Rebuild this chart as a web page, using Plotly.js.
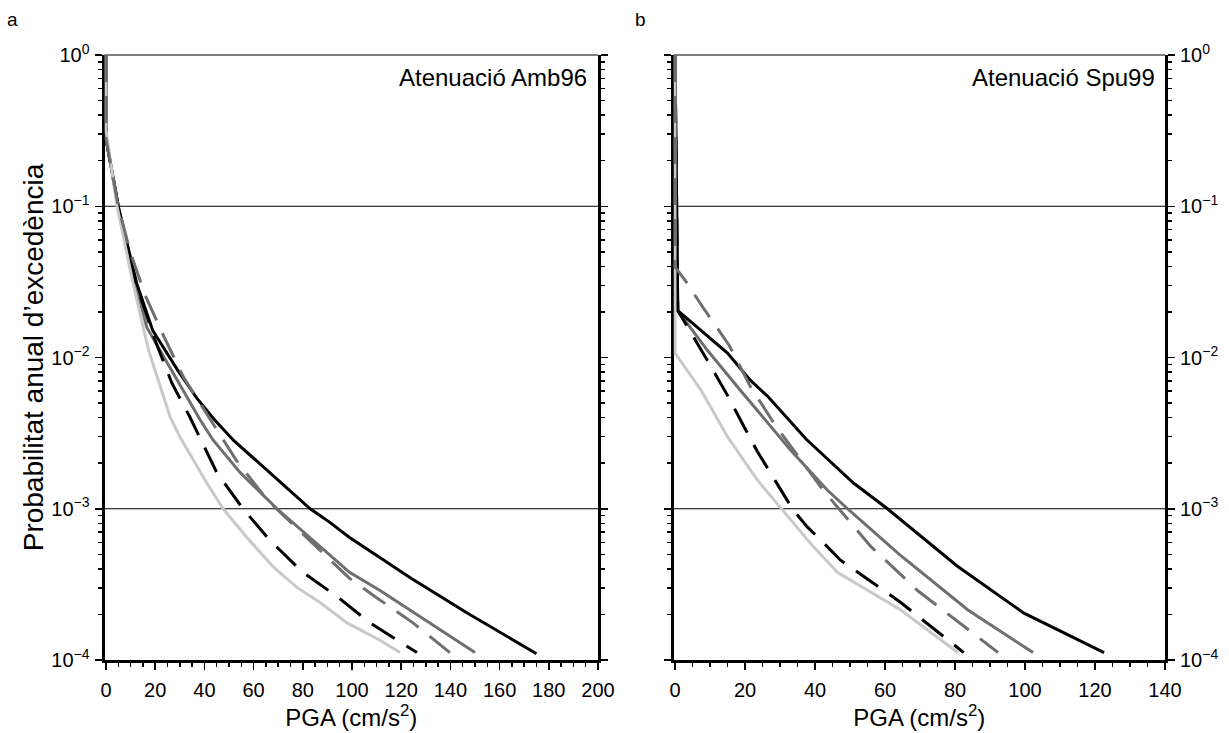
<!DOCTYPE html>
<html>
<head>
<meta charset="utf-8">
<script src="https://cdn.plot.ly/plotly-3.0.1.min.js"></script>
<style>
  html, body { margin: 0; padding: 0; background: #ffffff; }
  #chart { width: 1229px; height: 733px; }
</style>
</head>
<body>
<div id="chart"></div>
<script>
// Annual exceedance probability vs PGA (cm/s²), two attenuation models.

// ---- Panel a: Atenuació Amb96 ----
const amb96_black_pga  = [0, 0, 5, 12.5, 19, 29, 37, 44, 52, 71, 83, 91, 99, 111, 124, 147, 175];
const amb96_black_p    = [1, 0.28, 0.1, 0.0309, 0.0151, 0.00832, 0.00537, 0.00389, 0.00282, 0.00148, 0.001, 0.000813, 0.000646, 0.000479, 0.000347, 0.000204, 0.00011];

const amb96_gray_pga   = [0, 0, 5, 11, 16.6, 27.3, 38.2, 43.5, 54.5, 69.5, 85.6, 99, 111.4, 123.6, 150];
const amb96_gray_p     = [1, 0.28, 0.1, 0.0355, 0.0158, 0.00794, 0.00389, 0.00285, 0.00174, 0.001, 0.000589, 0.00038, 0.000288, 0.000214, 0.000112];

const amb96_light_pga  = [0, 0, 4.5, 11, 17.3, 26, 30, 41, 47.6, 57.3, 68, 77.6, 87, 98, 111.4, 119.5];
const amb96_light_p    = [1, 0.316, 0.1, 0.0309, 0.0112, 0.00407, 0.00299, 0.00148, 0.001, 0.000646, 0.000412, 0.000302, 0.00024, 0.000176, 0.000135, 0.000112];

const amb96_blackDash_pga = [0, 0, 5, 12, 19.9, 26.8, 34, 45, 55.7, 66.7, 80, 93.9, 107.3, 126.4];
const amb96_blackDash_p   = [1, 0.28, 0.1, 0.0316, 0.0131, 0.00676, 0.00407, 0.00174, 0.001, 0.000617, 0.00038, 0.000263, 0.000176, 0.000112];

const amb96_grayDash_pga  = [0, 0, 5, 9.8, 15.9, 23.6, 31.7, 39.4, 53, 65.4, 90, 99, 109.3, 124.8, 139.8];
const amb96_grayDash_p    = [1, 0.28, 0.1, 0.0501, 0.0259, 0.0137, 0.00731, 0.00468, 0.00209, 0.00115, 0.000479, 0.000347, 0.000263, 0.000176, 0.000112];

// ---- Panel b: Atenuació Spu99 ----
const spu99_black_pga  = [0, 0.8, 15, 21.5, 26.6, 37.5, 51, 60.7, 80.7, 99.7, 122.6];
const spu99_black_p    = [1, 0.0204, 0.0107, 0.00708, 0.0055, 0.00288, 0.00148, 0.001, 0.000417, 0.000204, 0.000112];

const spu99_gray_pga   = [0, 0.8, 9.2, 18.6, 33, 43.5, 49.3, 64, 83.7, 102.3];
const spu99_gray_p     = [1, 0.0204, 0.0112, 0.0061, 0.00245, 0.00133, 0.001, 0.000501, 0.000214, 0.000112];

const spu99_light_pga  = [0, 0, 7.4, 15, 23.5, 30.9, 39.5, 46.4, 64.5, 80.8];
const spu99_light_p    = [1, 0.0107, 0.0061, 0.00299, 0.00155, 0.000977, 0.000562, 0.00038, 0.000214, 0.000112];

const spu99_blackDash_pga = [0, 0.8, 10.3, 15, 20, 23.5, 33.8, 37.8, 43.5, 47.3, 64.5, 82.5];
const spu99_blackDash_p   = [1, 0.0204, 0.0087, 0.00562, 0.00339, 0.0024, 0.000977, 0.000759, 0.000562, 0.000457, 0.00024, 0.000112];

const spu99_grayDash_pga  = [0, 0, 3.2, 8, 15.5, 21.5, 28.7, 42.4, 56, 69.3, 92.3];
const spu99_grayDash_p    = [1, 0.0398, 0.0316, 0.0214, 0.012, 0.00646, 0.00355, 0.00132, 0.000562, 0.000288, 0.000112];

// Axis ticks and labels
const yTickVals  = [1, 0.1, 0.01, 0.001, 0.0001];
const yTickText  = ['10<sup>0</sup>', '10<sup>−1</sup>', '10<sup>−2</sup>', '10<sup>−3</sup>', '10<sup>−4</sup>'];
const yGridVals  = [1, 0.1, 0.001];
const panelTitles = ['Atenuació Amb96', 'Atenuació Spu99'];
const panelLetters = ['a', 'b'];
const xTitle = 'PGA (cm/s<sup>2</sup>)';
const yTitle = 'Probabilitat anual d’excedència';

// ---- styling ----
const FONT = 'Liberation Sans, Arial, Helvetica, sans-serif';
const W = 1229, H = 733;
const LW = 3;
const DASH = '27px,14px';
const styles = {
  black:     { color: '#000000', width: LW, dash: 'solid' },
  gray:      { color: '#6f6f6f', width: LW, dash: 'solid' },
  light:     { color: '#c9c9c9', width: LW, dash: 'solid' },
  blackDash: { color: '#000000', width: LW, dash: DASH },
  grayDash:  { color: '#6f6f6f', width: LW, dash: DASH }
};

function curve(x, y, style, xa, ya) {
  return { x: x, y: y, xaxis: xa, yaxis: ya, type: 'scatter', mode: 'lines',
           line: Object.assign({}, style), hoverinfo: 'skip', showlegend: false };
}

// drawing order: solid dark curves first, light grey and grey dashed on top
const traces = [
  curve(amb96_gray_pga, amb96_gray_p, styles.gray, 'x', 'y'),
  curve(amb96_black_pga, amb96_black_p, styles.black, 'x', 'y'),
  curve(amb96_blackDash_pga, amb96_blackDash_p, styles.blackDash, 'x', 'y'),
  curve(amb96_light_pga, amb96_light_p, styles.light, 'x', 'y'),
  curve(amb96_grayDash_pga, amb96_grayDash_p, styles.grayDash, 'x', 'y'),

  curve(spu99_gray_pga, spu99_gray_p, styles.gray, 'x2', 'y2'),
  curve(spu99_black_pga, spu99_black_p, styles.black, 'x2', 'y2'),
  curve(spu99_blackDash_pga, spu99_blackDash_p, styles.blackDash, 'x2', 'y2'),
  curve(spu99_light_pga, spu99_light_p, styles.light, 'x2', 'y2'),
  curve(spu99_grayDash_pga, spu99_grayDash_p, styles.grayDash, 'x2', 'y2')
];

// pixel layout of the two panels
const yLogRange = [-4, 0];
const plotTop = 55, plotBottom = 660;
const yDomain = [1 - plotBottom / H, 1 - plotTop / H];
const aRange = [-0.6, 200], aPx = [104.5, 598];
const bRange = [-0.43, 140], bPx = [673.5, 1165];

// minor ticks on the log axes (2..9 in each decade)
const yMinor = [];
for (let e = -4; e < 0; e++) for (let m = 2; m <= 9; m++) yMinor.push(m * Math.pow(10, e));

const tickFont = { family: FONT, size: 20, color: '#000' };

function xAxis(range, px, anchor) {
  return {
    domain: [px[0] / W, px[1] / W], range: range, anchor: anchor,
    showgrid: false, zeroline: false, showline: true, linecolor: '#000', linewidth: 3,
    ticks: 'outside', ticklen: 7, tickwidth: 1.5, tickcolor: '#000',
    tick0: 0, dtick: 20, tickfont: tickFont, ticklabelstandoff: 3, layer: 'below traces',
    minor: { dtick: 5, tick0: 0, ticks: 'outside', ticklen: 4, tickwidth: 1.5, tickcolor: '#000' },
    title: { text: xTitle, font: { family: FONT, size: 24, color: '#000' }, standoff: 4 },
    fixedrange: true
  };
}

function yAxis(anchor, side, withTitle) {
  const ax = {
    domain: yDomain, type: 'log', range: yLogRange, anchor: anchor, side: side,
    showgrid: false, zeroline: false, showline: true, linecolor: '#000', linewidth: 3,
    mirror: 'ticks', ticks: 'outside', ticklen: 7, tickwidth: 1.5, tickcolor: '#000',
    tickmode: 'array', tickvals: yTickVals, ticktext: yTickText, tickfont: tickFont,
    ticklabelstandoff: 1, layer: 'below traces',
    minor: { tickmode: 'array', tickvals: yMinor, ticks: 'outside', ticklen: 4, tickwidth: 1.5, tickcolor: '#000' },
    fixedrange: true
  };
  if (withTitle) ax.title = { text: yTitle, font: { family: FONT, size: 28, color: '#000' }, standoff: 0 };
  return ax;
}

// horizontal reference lines at selected decades
function domainFrac(v) { return (Math.log10(v) - yLogRange[0]) / (yLogRange[1] - yLogRange[0]); }
const shapes = [];
['x', 'x2'].forEach(function (xa, i) {
  const ya = i === 0 ? 'y' : 'y2';
  yGridVals.forEach(function (v) {
    shapes.push({ type: 'line', xref: xa + ' domain', yref: ya + ' domain',
                  x0: 0, x1: 1, y0: domainFrac(v), y1: domainFrac(v),
                  line: { color: '#000', width: 1.2 }, layer: 'below' });
  });
});

const labelFont = { family: FONT, size: 24, color: '#000' };
const annotations = [
  { xref: 'x domain', yref: 'paper', x: 0.982, y: 1 - 77 / H, xanchor: 'right', yanchor: 'middle',
    text: panelTitles[0], showarrow: false, font: labelFont },
  { xref: 'x2 domain', yref: 'paper', x: 0.984, y: 1 - 77 / H, xanchor: 'right', yanchor: 'middle',
    text: panelTitles[1], showarrow: false, font: labelFont },
  { xref: 'paper', yref: 'paper', x: 12 / W, y: 1 - 20 / H, xanchor: 'center', yanchor: 'middle',
    text: panelLetters[0], showarrow: false, font: { family: FONT, size: 19, color: '#000' } },
  { xref: 'paper', yref: 'paper', x: 641 / W, y: 1 - 20 / H, xanchor: 'center', yanchor: 'middle',
    text: panelLetters[1], showarrow: false, font: { family: FONT, size: 19, color: '#000' } }
];

const layout = {
  width: W, height: H,
  margin: { l: 0, r: 0, t: 0, b: 0 },
  paper_bgcolor: '#ffffff', plot_bgcolor: '#ffffff',
  showlegend: false,
  xaxis: xAxis(aRange, aPx, 'y'),
  yaxis: yAxis('x', 'left', true),
  xaxis2: xAxis(bRange, bPx, 'y2'),
  yaxis2: yAxis('x2', 'right', false),
  shapes: shapes,
  annotations: annotations
};

Plotly.newPlot('chart', traces, layout, { staticPlot: true, displayModeBar: false });
</script>
</body>
</html>
